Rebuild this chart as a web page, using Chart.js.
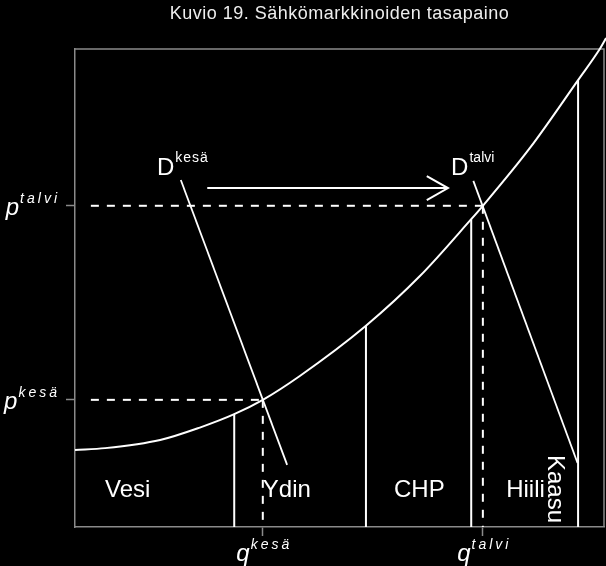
<!DOCTYPE html>
<html>
<head>
<meta charset="utf-8">
<script src="https://cdn.jsdelivr.net/npm/chart.js@4.4.1/dist/chart.umd.min.js"></script>
<style>
  html, body { margin: 0; padding: 0; background: #000; }
  #wrap { width: 606px; height: 566px; }
</style>
</head>
<body>
<div id="wrap"><canvas id="marketChart"></canvas></div>
<script>
// Tarjontakäyrä (määrä q, hinta p), luettu kuvasta
const supplyQ = [0, 5.7, 16.1, 23.6, 30.1, 35.5, 42.5, 55.0, 65.2, 74.9, 77.1, 86.0, 95.1, 99.2, 100.4];
const supplyP = [16.1, 16.5, 18.2, 20.8, 23.6, 26.6, 31.6, 42.1, 52.5, 64.4, 67.2, 79.3, 93.5, 100, 102.3];

// Tuotantomuotojen rajat ja niiden korkeus käyrällä
const plantNames = ['Vesi', 'Ydin', 'CHP', 'Hiili', 'Kaasu'];
const plantEdgeQ = [30.1, 55.0, 74.9, 95.1];
const plantEdgeP = [23.6, 42.1, 64.4, 93.5];

// Kysyntäkäyrät
const demandSummerQ = [20.0, 40.1];
const demandSummerP = [72.6, 13.0];
const demandWinterQ = [75.3, 95.0];
const demandWinterP = [72.4, 13.4];

// Tasapainot
const pSummer = 26.6, qSummer = 35.5;
const pWinter = 67.2, qWinter = 77.1;

// Siirtymänuoli
const arrowQ = [25.0, 70.5];
const arrowP = [70.9, 70.9];
const arrowHeadQ = [66.5, 70.5, 66.5];
const arrowHeadP = [73.4, 70.9, 68.4];

const pTicks = [pSummer, pWinter];
const qTicks = [qSummer, qWinter];

const white = '#ffffff';
const frameColor = '#8a8a8a';
const fontFamily = '"Liberation Sans", Arial, sans-serif';

function pts(xs, ys) {
    return xs.map((x, i) => ({ x: x, y: ys[i] }));
}

function lineSet(data, extra) {
    return Object.assign({
        data: data,
        showLine: true,
        borderColor: white,
        borderWidth: 2,
        pointRadius: 0,
        fill: false
    }, extra || {});
}

const datasets = [];

// tarjonta
datasets.push(lineSet(pts(supplyQ, supplyP), { cubicInterpolationMode: 'monotone', clip: false }));

// pystyviivat
plantEdgeQ.forEach((q, i) => {
    datasets.push(lineSet([{ x: q, y: plantEdgeP[i] }, { x: q, y: 0 }]));
});

// kysyntä
datasets.push(lineSet(pts(demandSummerQ, demandSummerP), { borderWidth: 1.8 }));
datasets.push(lineSet(pts(demandWinterQ, demandWinterP), { borderWidth: 1.8 }));

// nuoli
datasets.push(lineSet(pts(arrowQ, arrowP)));
datasets.push(lineSet(pts(arrowHeadQ, arrowHeadP)));

// katkoviivat
const dash = { borderDash: [8, 8], borderWidth: 2 };
datasets.push(lineSet([{ x: 3.0, y: pWinter }, { x: qWinter, y: pWinter }], dash));
datasets.push(lineSet([{ x: 3.0, y: pSummer }, { x: qSummer, y: pSummer }], dash));
datasets.push(lineSet([{ x: qSummer, y: pSummer }, { x: qSummer, y: 0 }], dash));
datasets.push(lineSet([{ x: qWinter, y: pWinter }, { x: qWinter, y: 0 }], dash));

// tekstien sijainnit (data-yksiköissä)
const plantLabelPos = [
    { x: 5.67, y: 6.3 },
    { x: 35.5, y: 6.3 },
    { x: 60.3, y: 6.3 },
    { x: 81.5, y: 6.3 },
    { x: 90.7, y: 7.95, rotate: true }
];

function drawSup(ctx, base, sup, x, y, opts) {
    // base ja yläindeksi, x = vasen reuna
    ctx.font = opts.baseFont;
    ctx.letterSpacing = '0px';
    ctx.textAlign = 'left';
    ctx.textBaseline = 'alphabetic';
    ctx.fillText(base, x, y);
    const bw = ctx.measureText(base).width;
    ctx.font = opts.supFont;
    ctx.letterSpacing = opts.spacing || '0px';
    ctx.fillText(sup, x + bw + (opts.gap || 0), y - opts.rise);
    ctx.letterSpacing = '0px';
}

function supWidth(ctx, base, sup, opts) {
    ctx.font = opts.baseFont;
    ctx.letterSpacing = '0px';
    const bw = ctx.measureText(base).width;
    ctx.font = opts.supFont;
    ctx.letterSpacing = opts.spacing || '0px';
    const sw = ctx.measureText(sup).width - parseFloat(opts.spacing || '0');
    ctx.letterSpacing = '0px';
    return bw + (opts.gap || 0) + sw;
}

const axisLabelOpts = {
    baseFont: 'italic 24px ' + fontFamily,
    supFont: 'italic 14px ' + fontFamily,
    spacing: '3px',
    gap: 1,
    rise: 12
};

const dLabelOpts = {
    baseFont: '24px ' + fontFamily,
    supFont: '14px ' + fontFamily,
    gap: 1,
    rise: 13.5
};

const decorPlugin = {
    id: 'decor',
    beforeDatasetsDraw(chart) {
        const { ctx, chartArea: a } = chart;
        ctx.save();
        ctx.strokeStyle = frameColor;
        ctx.lineWidth = 1.5;
        ctx.beginPath();
        ctx.moveTo(a.left, a.top);
        ctx.lineTo(a.right, a.top);
        ctx.lineTo(a.right, a.bottom);
        ctx.stroke();
        ctx.restore();
    },
    afterDraw(chart) {
        const { ctx, chartArea: a, scales } = chart;
        const x = scales.x, y = scales.y;
        ctx.save();
        ctx.fillStyle = white;

        // otsikko
        ctx.font = '18px ' + fontFamily;
        ctx.letterSpacing = '0.5px';
        ctx.textAlign = 'center';
        ctx.textBaseline = 'alphabetic';
        ctx.fillStyle = '#eeeeee';
        ctx.fillText('Kuvio 19. Sähkömarkkinoiden tasapaino', (a.left + a.right) / 2, 19);
        ctx.letterSpacing = '0px';
        ctx.fillStyle = white;

        // hinta-akselin nimet
        [[pWinter, 'talvi'], [pSummer, 'kesä']].forEach(([v, s]) => {
            const py = y.getPixelForValue(v);
            const w = supWidth(ctx, 'p', s, axisLabelOpts);
            drawSup(ctx, 'p', s, a.left - 18 - w, py + 9, axisLabelOpts);
        });

        // määrä-akselin nimet
        [[qSummer, 'kesä'], [qWinter, 'talvi']].forEach(([v, s]) => {
            const px = x.getPixelForValue(v);
            const w = supWidth(ctx, 'q', s, axisLabelOpts);
            drawSup(ctx, 'q', s, px - w / 2, a.bottom + 33.5, axisLabelOpts);
        });

        // kysyntäkäyrien nimet
        drawSup(ctx, 'D', 'kesä', x.getPixelForValue(15.5), y.getPixelForValue(73.6),
            Object.assign({}, dLabelOpts, { spacing: '1px' }));
        drawSup(ctx, 'D', 'talvi', x.getPixelForValue(71.1), y.getPixelForValue(73.6), dLabelOpts);

        // tuotantomuodot
        ctx.font = '24px ' + fontFamily;
        ctx.letterSpacing = '0px';
        plantNames.forEach((name, i) => {
            const pos = plantLabelPos[i];
            const px = x.getPixelForValue(pos.x);
            const py = y.getPixelForValue(pos.y);
            if (pos.rotate) {
                ctx.save();
                ctx.translate(px, py);
                ctx.rotate(Math.PI / 2);
                ctx.textAlign = 'center';
                ctx.textBaseline = 'middle';
                ctx.fillText(name, 0, 0);
                ctx.restore();
            } else {
                ctx.textAlign = 'left';
                ctx.textBaseline = 'alphabetic';
                ctx.fillText(name, px, py);
            }
        });
        ctx.restore();
    }
};

const ctx = document.getElementById('marketChart').getContext('2d');
const marketChart = new Chart(ctx, {
    type: 'scatter',
    data: { datasets: datasets },
    options: {
        responsive: true,
        maintainAspectRatio: false,
        animation: false,
        layout: {
            padding: { left: 66, top: 49, right: 2, bottom: 30 }
        },
        plugins: {
            legend: { display: false },
            tooltip: { enabled: false },
            title: { display: false }
        },
        scales: {
            x: {
                type: 'linear',
                min: 0,
                max: 100,
                afterBuildTicks: axis => { axis.ticks = qTicks.map(v => ({ value: v })); },
                grid: { drawOnChartArea: false, drawTicks: true, tickLength: 9, tickColor: frameColor, tickWidth: 1.5 },
                border: { color: frameColor, width: 1.5 },
                ticks: { display: false }
            },
            y: {
                type: 'linear',
                min: 0,
                max: 100,
                afterBuildTicks: axis => { axis.ticks = pTicks.map(v => ({ value: v })); },
                grid: { drawOnChartArea: false, drawTicks: true, tickLength: 9, tickColor: frameColor, tickWidth: 1.5 },
                border: { color: frameColor, width: 1.5 },
                ticks: { display: false }
            }
        }
    },
    plugins: [decorPlugin]
});
</script>
</body>
</html>
